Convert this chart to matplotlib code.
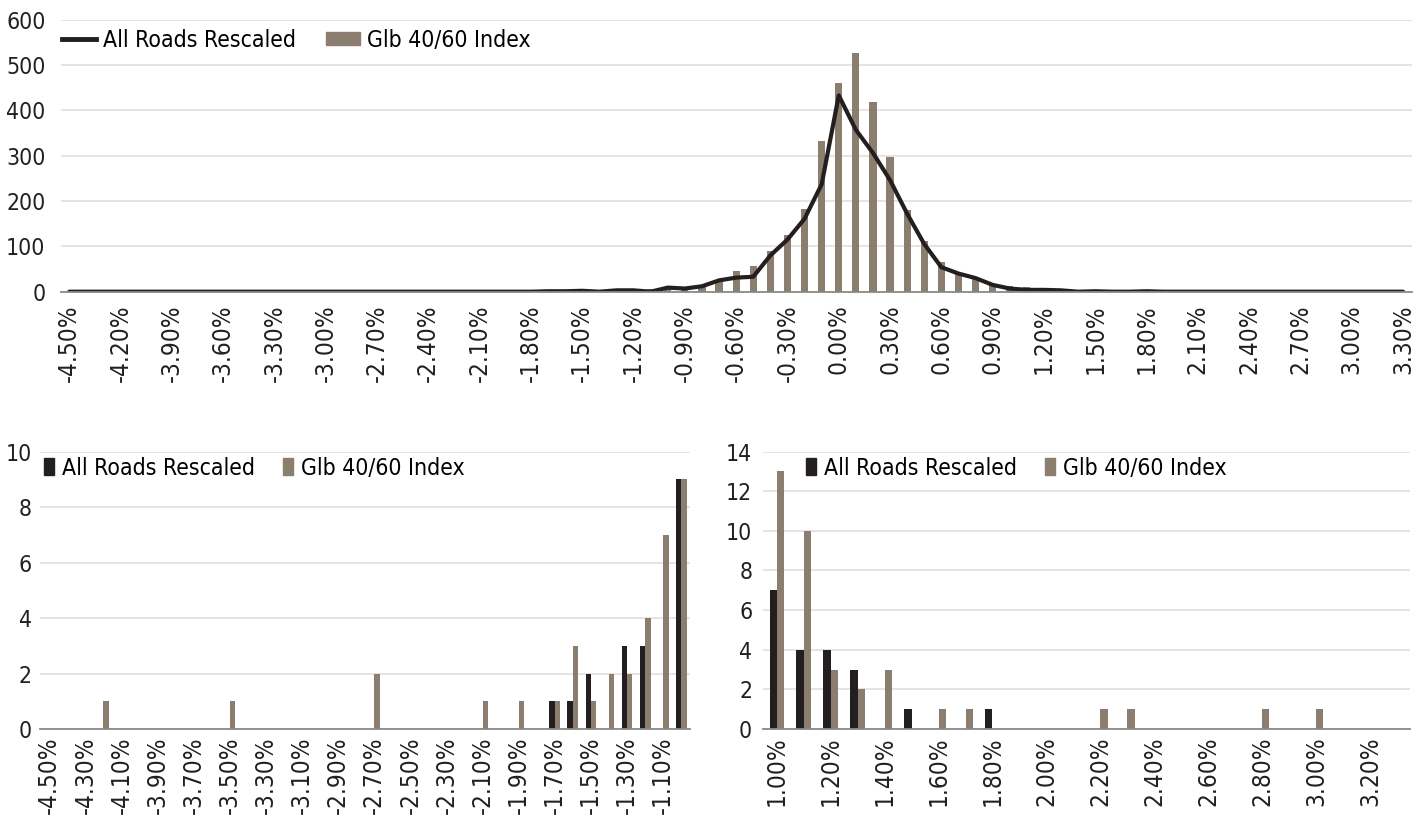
import numpy as np
import matplotlib.pyplot as plt
from matplotlib.lines import Line2D
from matplotlib.patches import Patch

plt.rcParams['font.family'] = ['DejaVu Sans']
plt.rcParams['font.stretch'] = 'condensed'
plt.rcParams['font.size'] = 16

DARK = '#231f20'
TAUPE = '#8b7e6f'
GRID = '#e6e1e1'
AXIS = '#8a8a8a'

# return bins (%), 0.10% wide
left_bins = np.arange(-45, -9) / 10      # -4.50 .. -1.00
mid_bins = np.arange(-9, 10) / 10        # -0.90 .. 0.90
right_bins = np.arange(10, 34) / 10      # 1.00 .. 3.30

# left tail counts
glb_left = [0, 0, 0, 1, 0, 0, 0, 0, 0, 0, 1, 0, 0, 0, 0, 0, 0, 0, 2, 0,
            0, 0, 0, 0, 1, 0, 1, 0, 1, 3, 1, 2, 2, 4, 7, 9]
roads_left = [0, 0, 0, 0, 0, 0, 0, 0, 0, 0, 0, 0, 0, 0, 0, 0, 0, 0, 0, 0,
              0, 0, 0, 0, 0, 0, 0, 0, 1, 1, 2, 0, 3, 3, 0, 9]

# middle of the distribution
glb_mid = [10, 15, 26, 46, 56, 90, 126, 182, 333, 461, 526, 419, 297, 180,
           112, 65, 38, 28, 16]
roads_mid = [7, 12, 25, 31, 33, 80, 115, 161, 237, 433, 357, 306, 246, 172,
             105, 54, 40, 30, 15]

# right tail counts
glb_right = [13, 10, 3, 2, 3, 0, 1, 1, 0, 0, 0, 0, 1, 1, 0, 0, 0, 0, 1, 0,
             1, 0, 0, 0]
roads_right = [7, 4, 4, 3, 0, 1, 0, 0, 1, 0, 0, 0, 0, 0, 0, 0, 0, 0, 0, 0,
               0, 0, 0, 0]

all_bins = np.concatenate([left_bins, mid_bins, right_bins])
glb_all = np.array(glb_left + glb_mid + glb_right)
roads_all = np.array(roads_left + roads_mid + roads_right)


def pct(v):
    return '%.2f%%' % v


def style(ax, ymax, ystep, xpad, ypad):
    ax.set_ylim(0, ymax)
    ax.set_yticks(np.arange(0, ymax + 1, ystep))
    ax.yaxis.grid(True, color=GRID, lw=1.3)
    ax.set_axisbelow(True)
    for s in ['top', 'right', 'left']:
        ax.spines[s].set_visible(False)
    ax.spines['bottom'].set_color(AXIS)
    ax.spines['bottom'].set_linewidth(1.3)
    ax.spines['bottom'].set_zorder(5)
    ax.tick_params(axis='x', length=0, pad=xpad, colors=DARK, labelsize=17.5)
    ax.tick_params(axis='y', length=0, pad=ypad, colors=DARK, labelsize=16.5)


fig = plt.figure(figsize=(14.22, 8.18), dpi=100)

#======================================
# top: full distribution
ax1 = fig.add_axes([0.0427, 0.6434, 0.950, 0.3325])
x = np.arange(len(all_bins))
ax1.bar(x, glb_all, width=0.42, color=TAUPE, zorder=2)
ax1.plot(x, roads_all, color=DARK, lw=3, zorder=3, solid_capstyle='round')
ax1.set_xlim(-0.5, len(all_bins) - 0.5)
ax1.set_xticks(x[::3])
ax1.set_xticklabels([pct(v) for v in all_bins[::3]], rotation=90)
style(ax1, 600, 100, 9, 11)
h1 = [Line2D([], [], color=DARK, lw=3.5),
      Patch(color=TAUPE)]
ax1.legend(h1, ['All Roads Rescaled', 'Glb 40/60 Index'], loc='center left',
           bbox_to_anchor=(0.001, 0.925), ncol=2, frameon=False,
           borderpad=0, borderaxespad=0, handlelength=1.5, handleheight=0.45,
           handletextpad=0.3, columnspacing=1.3, fontsize=16.5)

#======================================
# bottom left: left tail
ax2 = fig.add_axes([0.0283, 0.1088, 0.4571, 0.3392])
xl = np.arange(len(left_bins))
ax2.bar(xl - 0.15, roads_left, width=0.3, color=DARK, zorder=2)
ax2.bar(xl + 0.15, glb_left, width=0.3, color=TAUPE, zorder=2)
ax2.set_xlim(-0.5, len(left_bins) - 0.5)
ax2.set_xticks(xl[:-1:2])
ax2.set_xticklabels([pct(v) for v in left_bins[:-1:2]], rotation=90)
style(ax2, 10, 2, 5, 6)

#======================================
# bottom right: right tail
ax3 = fig.add_axes([0.5368, 0.1088, 0.455, 0.3392])
xr = np.arange(len(right_bins))
ax3.bar(xr - 0.135, roads_right, width=0.27, color=DARK, zorder=2)
ax3.bar(xr + 0.135, glb_right, width=0.27, color=TAUPE, zorder=2)
ax3.set_xlim(-0.5, len(right_bins) - 0.5)
ax3.set_xticks(xr[:-1:2])
ax3.set_xticklabels([pct(v) for v in right_bins[:-1:2]], rotation=90)
style(ax3, 14, 2, 5, 8)

h2 = [Patch(color=DARK), Patch(color=TAUPE)]
for ax, x0 in [(ax2, 0.006), (ax3, 0.066)]:
    ax.legend(h2, ['All Roads Rescaled', 'Glb 40/60 Index'], loc='center left',
              bbox_to_anchor=(x0, 0.94), ncol=2, frameon=False,
              borderpad=0, borderaxespad=0, handlelength=0.45,
              handleheight=0.75, handletextpad=0.34, columnspacing=1.2,
              fontsize=16.5)

fig.savefig('out.png', dpi=100)
